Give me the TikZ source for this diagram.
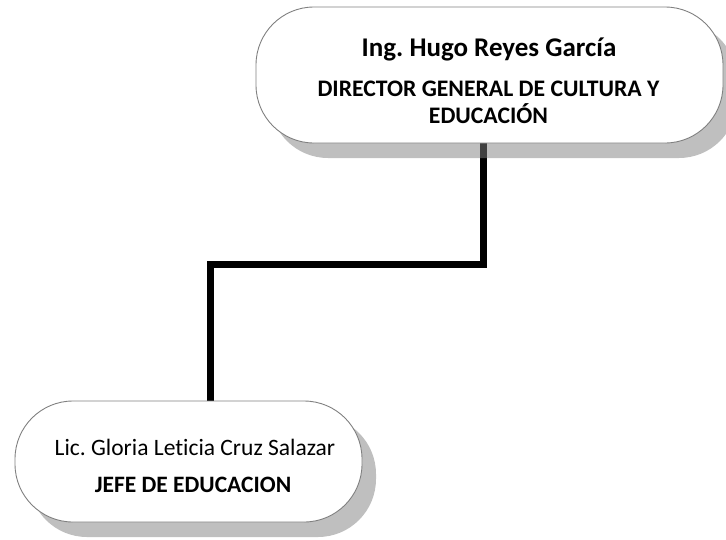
\documentclass[tikz,border=0pt]{standalone}
\usepackage{fontspec}
\setmainfont[Ligatures=NoCommon]{Carlito}
\usetikzlibrary{shadows,backgrounds}
\frenchspacing
\begin{document}
\begin{tikzpicture}[x=1pt,y=-1pt,
  orgbox/.style={draw=black!50, line width=0.9pt, fill=white, rounded corners=58pt,
    inner sep=0pt,
    drop shadow={shadow xshift=14pt, shadow yshift=-15pt, fill=gray, opacity=0.5}},
  txt/.style={anchor=base, inner sep=0pt},
  conn/.style={line width=7pt, black}]
\useasboundingbox (0,0) rectangle (726,539);
\node[orgbox, minimum width=467pt, minimum height=136pt] (top) at (489.5,75) {};
\node[orgbox, minimum width=347pt, minimum height=121pt] (bot) at (188.5,461.5) {};
\node[txt, font=\fontsize{27}{33}\selectfont\bfseries] (t1) at (489,56) {Ing. Hugo Reyes García};
\node[txt, font=\fontsize{23.7}{29}\selectfont\bfseries] (t2) at (488.5,96) {DIRECTOR GENERAL DE CULTURA Y};
\node[txt, font=\fontsize{23.7}{29}\selectfont\bfseries] (t3) at (488.5,123) {EDUCACIÓN};
\node[txt, font=\fontsize{23.5}{29}\selectfont] (b1) at (195,455) {Lic. Gloria Leticia Cruz Salazar};
\node[txt, font=\fontsize{23.5}{29}\selectfont\bfseries] (b2) at (193,492) {JEFE DE EDUCACION};
\begin{pgfonlayer}{background}
\draw[conn] ([xshift=-6.5pt]top.south) -- ++(0,121) -| ([xshift=21.5pt]bot.north);
\end{pgfonlayer}
\end{tikzpicture}
\end{document}
